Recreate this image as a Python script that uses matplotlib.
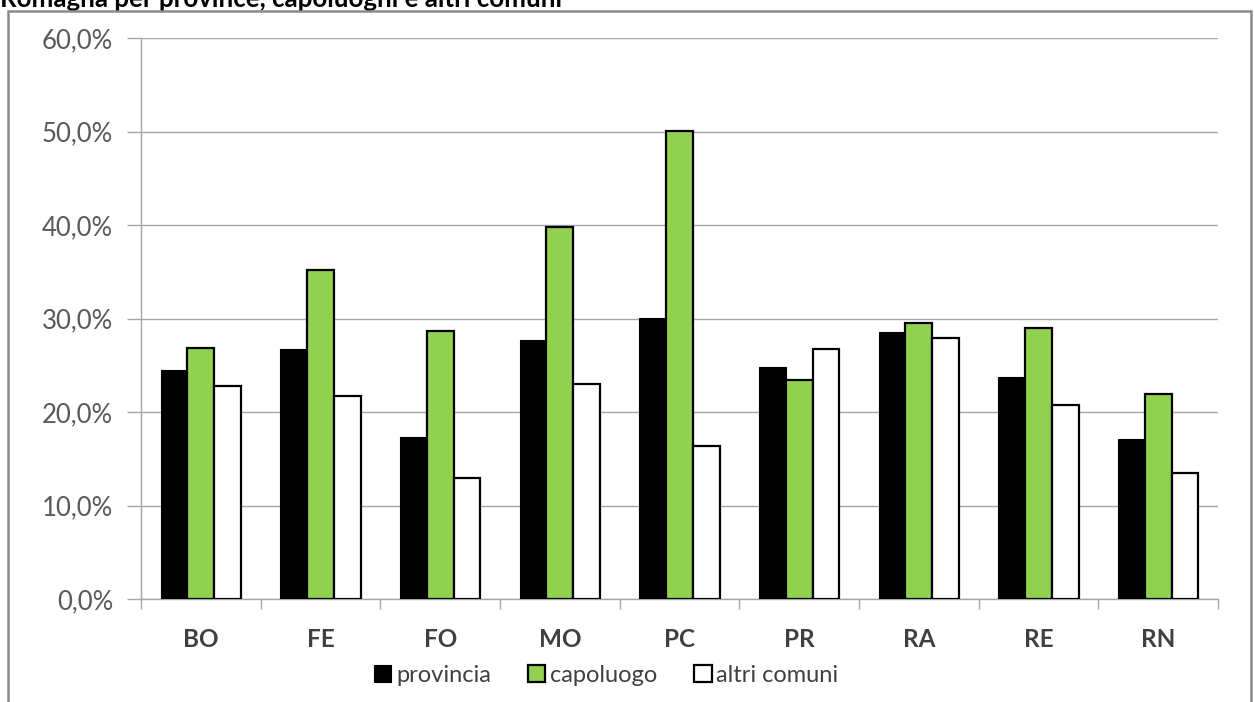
import matplotlib
matplotlib.use("Agg")
import matplotlib.pyplot as plt
from matplotlib.patches import Rectangle
from matplotlib.ticker import FuncFormatter, FixedLocator
import numpy as np

plt.rcParams['font.family'] = ['Lato', 'DejaVu Sans']

# Data
province = ["BO", "FE", "FO", "MO", "PC", "PR", "RA", "RE", "RN"]
provincia = [24.5, 26.7, 17.3, 27.7, 30.1, 24.8, 28.6, 23.8, 17.1]
capoluogo = [26.9, 35.2, 28.7, 39.8, 50.1, 23.4, 29.5, 29.0, 21.9]
altri_comuni = [22.8, 21.7, 12.9, 23.0, 16.4, 26.8, 27.9, 20.8, 13.5]
series_names = ["provincia", "capoluogo", "altri comuni"]
yticks = [0, 10, 20, 30, 40, 50, 60]
title = "Romagna per province, capoluoghi e altri comuni"

W, H = 1254, 702
fig = plt.figure(figsize=(W / 100, H / 100), dpi=100)
fig.patch.set_facecolor("white")

# heading above the chart box (its lower part is hidden by the box)
fig.text(0.0, 1 - 7 / H, title, ha="left", va="baseline",
         fontsize=18.6, fontweight="bold", color="black", zorder=0)

# chart box with white fill
frame = Rectangle((8 / W, -0.05), (1251 - 8) / W, 1.05 - 10.5 / H,
                  transform=fig.transFigure, facecolor="white",
                  edgecolor="#8a8a8a", linewidth=1.8, zorder=0.5)
fig.patches.append(frame)

ax = fig.add_axes([141 / W, 1 - 599 / H, (1218 - 141) / W, (599 - 38.3) / H])
ax.set_zorder(1)

x = np.arange(len(province))
bw = 0.223
ax.bar(x - bw, provincia, bw, color="black", edgecolor="black",
       linewidth=0.8, label=series_names[0], zorder=3)
ax.bar(x, capoluogo, bw, color="#92D050", edgecolor="black",
       linewidth=1.6, label=series_names[1], zorder=3)
ax.bar(x + bw, altri_comuni, bw, color="white", edgecolor="black",
       linewidth=1.6, label=series_names[2], zorder=3)

ax.set_xlim(-0.5, len(province) - 0.5)
ax.set_ylim(0, 60)
ax.set_yticks(yticks)
ax.yaxis.set_major_formatter(FuncFormatter(lambda v, p: f"{v:.1f}%".replace(".", ",")))
ax.yaxis.grid(True, color="#a6a6a6", linewidth=1.0, zorder=0)
ax.set_axisbelow(True)

ax.set_xticks(x)
ax.set_xticklabels(province, fontweight="bold", fontsize=17.5, color="#404040")
ax.xaxis.set_minor_locator(FixedLocator(np.arange(-0.5, len(province), 1.0)))
ax.tick_params(axis="x", which="major", length=0, pad=21)
ax.tick_params(axis="x", which="minor", length=7, color="#a6a6a6", width=1.0)
ax.tick_params(axis="y", length=10, color="#a6a6a6", width=1.0,
               labelsize=18.5, labelcolor="#595959", pad=10)

for s in ["top", "right"]:
    ax.spines[s].set_visible(False)
for s in ["left", "bottom"]:
    ax.spines[s].set_color("#a6a6a6")
    ax.spines[s].set_linewidth(1.0)

leg = ax.legend(loc="center", bbox_to_anchor=(606 / W, 1 - 675 / H),
                bbox_transform=fig.transFigure, ncol=3, frameon=False,
                fontsize=17, handlelength=0.75, handleheight=0.75,
                handletextpad=0.2, columnspacing=1.55)
for t in leg.get_texts():
    t.set_color("#404040")

fig.savefig("out.png", dpi=100, facecolor="white")
